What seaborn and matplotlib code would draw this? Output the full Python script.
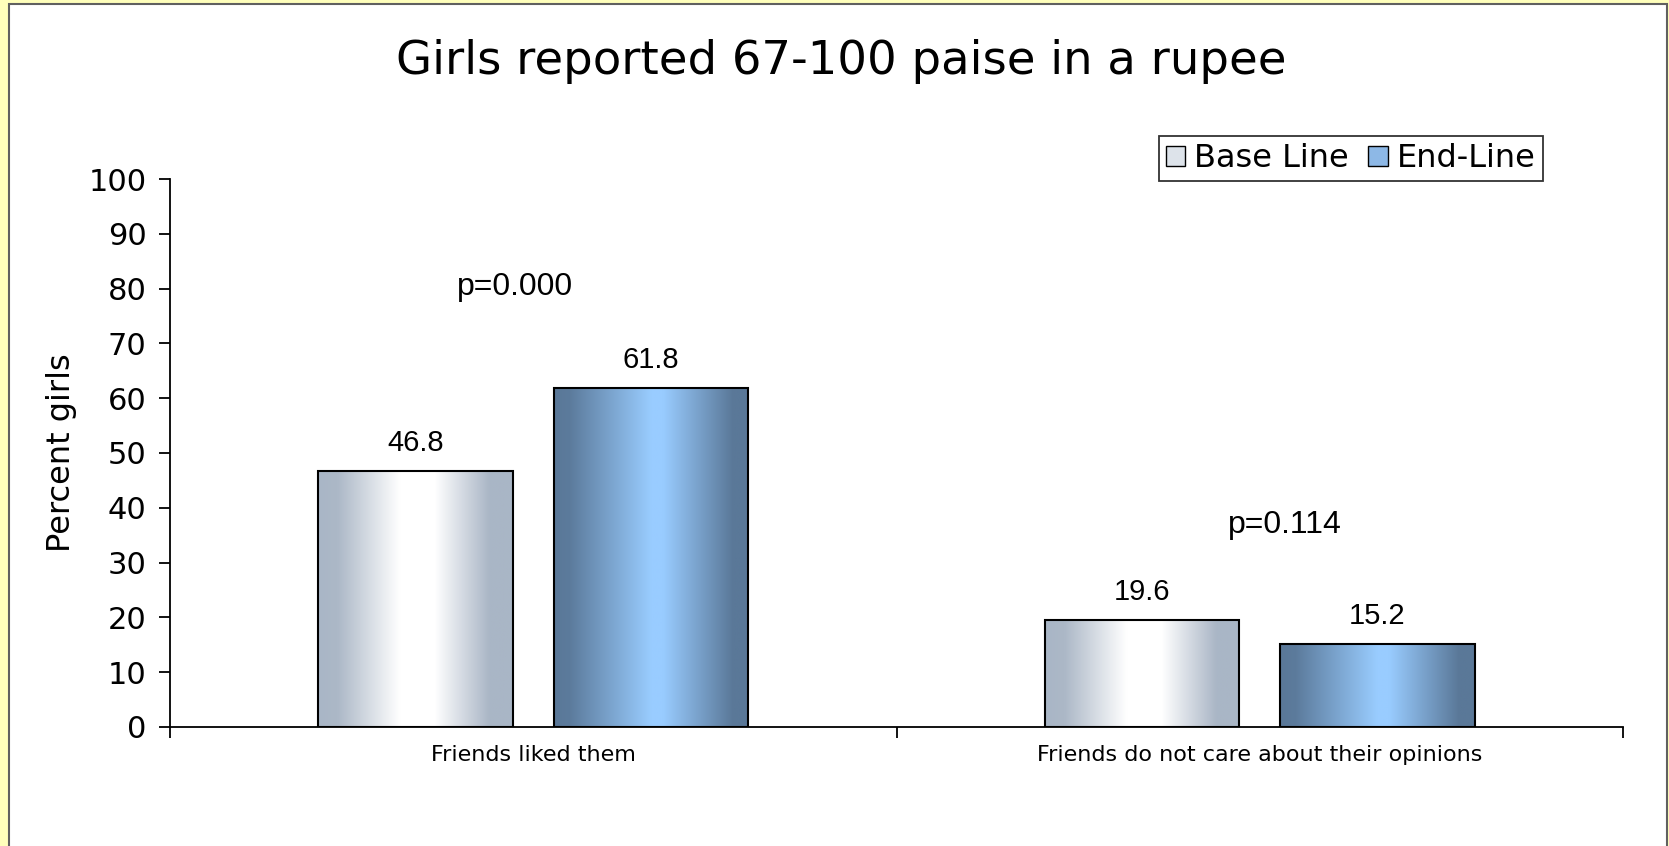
import numpy as np
import pandas as pd
import matplotlib.pyplot as plt
import seaborn as sns
from matplotlib.colors import LinearSegmentedColormap, to_hex
from matplotlib.patches import Patch, Rectangle

# chart data
categories = ['Friends liked them', 'Friends do not care about their opinions']
series = ['Base Line', 'End-Line']
base_line = [46.8, 19.6]
end_line = [61.8, 15.2]
p_values = ['p=0.000', 'p=0.114']
p_heights = [80.3, 36.9]
y_ticks = list(range(0, 101, 10))

df = pd.DataFrame({
    'category': categories * 2,
    'series': [series[0]] * len(categories) + [series[1]] * len(categories),
    'value': base_line + end_line,
})

# horizontal "cylinder" gradients for the two series
base_cmap = LinearSegmentedColormap.from_list('base', [
    (0.0, '#A9B6C6'), (0.10, '#ACB8C7'), (0.42, '#FFFFFF'),
    (0.60, '#FFFFFF'), (0.88, '#AAB6C6'), (1.0, '#A9B6C6')])
end_cmap = LinearSegmentedColormap.from_list('end', [
    (0.0, '#5A7898'), (0.08, '#5C7B9C'), (0.50, '#99CCFF'),
    (0.56, '#99CCFF'), (0.92, '#5A7898'), (1.0, '#5A7898')])
flat = ['#D0D8E2', '#7FA9D6']
grads = {to_hex(flat[0]): base_cmap, to_hex(flat[1]): end_cmap}

sns.set_theme(style='ticks')
plt.rcParams['font.family'] = ['DejaVu Sans']
plt.rcParams.update({'text.color': 'black', 'axes.labelcolor': 'black',
                     'xtick.color': 'black', 'ytick.color': 'black'})

fig = plt.figure(figsize=(16.69, 8.46), dpi=100, facecolor='#FFFFBB')
fig.patches.append(Rectangle((9 / 1669, -0.01), (1667 - 9) / 1669, 1.01 - 4 / 846,
                             transform=fig.transFigure, facecolor='white',
                             edgecolor='#606060', lw=1.5, zorder=0))
ax = fig.add_axes([0.1019, 0.1407, 0.8705, 0.6477])
ax.set_zorder(2)
ax.set_facecolor('none')

sns.barplot(data=df, x='category', y='value', hue='series',
            order=categories, hue_order=series, palette=flat, saturation=1,
            width=0.648, gap=0.173, errorbar=None,
            edgecolor='black', linewidth=1.5, legend=False, ax=ax)

# paint gradients inside each bar
ramp = np.linspace(0, 1, 256)[None, :]
for p in list(ax.patches):
    cmap = grads.get(to_hex(p.get_facecolor()))
    if cmap is None:
        continue
    x0, w, h = p.get_x(), p.get_width(), p.get_height()
    im = ax.imshow(ramp, cmap=cmap, extent=[x0, x0 + w, 0, h],
                   aspect='auto', interpolation='bilinear', zorder=2)
    im.set_clip_path(p)
    p.set_facecolor('none')
    p.set_zorder(3)

ax.set_xlim(-0.5, len(categories) - 0.5)
ax.set_ylim(0, 100)
ax.set_yticks(y_ticks)
sns.despine(ax=ax)
for s in ['left', 'bottom']:
    ax.spines[s].set_linewidth(1.3)
    ax.spines[s].set_color('black')

ax.set_xticks(np.arange(-0.5, len(categories)), minor=True)
ax.tick_params(axis='x', which='major', length=0, labelsize=16, pad=13)
ax.tick_params(axis='x', which='minor', length=8, width=1.3, color='black')
ax.tick_params(axis='y', length=8, width=1.3, color='black', labelsize=22, pad=9)
ax.set_xlabel('')
ax.set_ylabel('Percent girls', fontsize=23, labelpad=8)

for c in ax.containers:
    ax.bar_label(c, fmt='%.1f', padding=10, fontsize=21, family='Liberation Sans')

offsets = [-0.025, 0.034]
for i, (txt, yv) in enumerate(zip(p_values, p_heights)):
    ax.text(i + offsets[i], yv, txt, ha='center', va='center',
            fontsize=23, family='Liberation Sans')

fig.text(0.504, 1 - 62 / 846, 'Girls reported 67-100 paise in a rupee',
         ha='center', va='center', fontsize=33.5)

handles = [Patch(facecolor='#DDE3EA', edgecolor='black', lw=1),
           Patch(facecolor='#8DB8E6', edgecolor='black', lw=1)]
leg = ax.legend(handles, series, ncol=2, loc='upper right',
                bbox_to_anchor=(0.945, 1.078), borderaxespad=0,
                fontsize=23, frameon=True, fancybox=False,
                handlelength=0.6, handleheight=0.6, handletextpad=0.3,
                columnspacing=0.6, borderpad=0.22)
leg.get_frame().set_edgecolor('black')
leg.get_frame().set_linewidth(1.3)

fig.savefig('out.png', dpi=100, facecolor=fig.get_facecolor())
